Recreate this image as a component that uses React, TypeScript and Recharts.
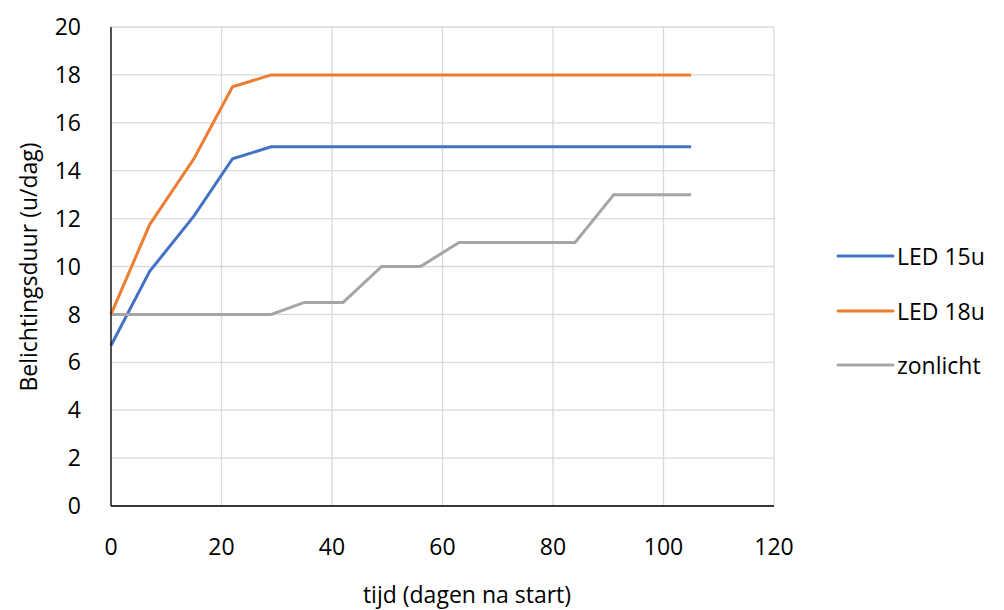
import { LineChart, Line, XAxis, YAxis, CartesianGrid } from 'recharts';

// days since start of the trial
const days = [0, 7, 15, 22, 29, 35, 42, 49, 56, 63, 84, 91, 105];

// hours of light per day for each treatment
const led15 = [6.7, 9.8, 12.1, 14.5, 15, 15, 15, 15, 15, 15, 15, 15, 15];
const led18 = [8, 11.75, 14.5, 17.5, 18, 18, 18, 18, 18, 18, 18, 18, 18];
const zonlicht = [8, 8, 8, 8, 8, 8.5, 8.5, 10, 10, 11, 11, 13, 13];

const xTicks = [0, 20, 40, 60, 80, 100, 120];
const yTicks = [0, 2, 4, 6, 8, 10, 12, 14, 16, 18, 20];

const series = [
    { key: 'led15', name: 'LED 15u', color: '#4472C4' },
    { key: 'led18', name: 'LED 18u', color: '#ED7D31' },
    { key: 'zonlicht', name: 'zonlicht', color: '#A5A5A5' },
];

const data = days.map((d, i) => ({
    dag: d,
    led15: led15[i],
    led18: led18[i],
    zonlicht: zonlicht[i],
}));

const FONT = '"Open Sans", sans-serif';
const tickStyle = { fontSize: 23, fill: '#000', fontFamily: FONT };

// rotated title drawn left of the y tick labels
function YTitle() {
    return (
        <text x={28} y={267} transform="rotate(-90 28 267)" textAnchor="middle" dominantBaseline="central" style={tickStyle}>
            Belichtingsduur (u/dag)
        </text>
    );
}

function XTitle() {
    return (
        <text x={467} y={594} textAnchor="middle" dominantBaseline="central" style={tickStyle}>
            tijd (dagen na start)
        </text>
    );
}

function LegendRows() {
    return (
        <div style={{ position: 'absolute', left: 836, top: 229, fontFamily: FONT, fontSize: 23, color: '#000' }}>
            {series.map((s) => (
                <div key={s.key} style={{ display: 'flex', alignItems: 'center', height: 54.5 }}>
                    <svg width={60} height={6} style={{ marginRight: 1 }}>
                        <line x1={2} y1={3} x2={57} y2={3} stroke={s.color} strokeWidth={3} strokeLinecap="round" />
                    </svg>
                    <span>{s.name}</span>
                </div>
            ))}
        </div>
    );
}

export default function App() {
    return (
        <div style={{ position: 'absolute', left: 0, top: 0, width: 1004, height: 610, background: '#fff' }}>
            <LineChart width={1004} height={610} data={data} margin={{ top: 27, right: 230, left: 0, bottom: 0 }}>
                <CartesianGrid stroke="#d9d9d9" strokeWidth={1.3} />
                <XAxis
                    dataKey="dag"
                    type="number"
                    domain={[0, 120]}
                    ticks={xTicks}
                    interval={0}
                    tickLine={false}
                    tickSize={0}
                    tickMargin={33}
                    axisLine={{ stroke: '#000', strokeWidth: 1.3 }}
                    tick={tickStyle}
                    height={104}
                    label={{ content: <XTitle /> }}
                />
                <YAxis
                    type="number"
                    domain={[0, 20]}
                    ticks={yTicks}
                    interval={0}
                    tickLine={false}
                    tickSize={0}
                    tickMargin={30}
                    axisLine={{ stroke: '#000', strokeWidth: 1.3 }}
                    tick={tickStyle}
                    width={111}
                    label={{ content: <YTitle /> }}
                />
                {series.map((s) => (
                    <Line
                        key={s.key}
                        type="linear"
                        dataKey={s.key}
                        name={s.name}
                        stroke={s.color}
                        strokeWidth={3}
                        dot={false}
                        isAnimationActive={false}
                    />
                ))}
            </LineChart>
            <LegendRows />
        </div>
    );
}
